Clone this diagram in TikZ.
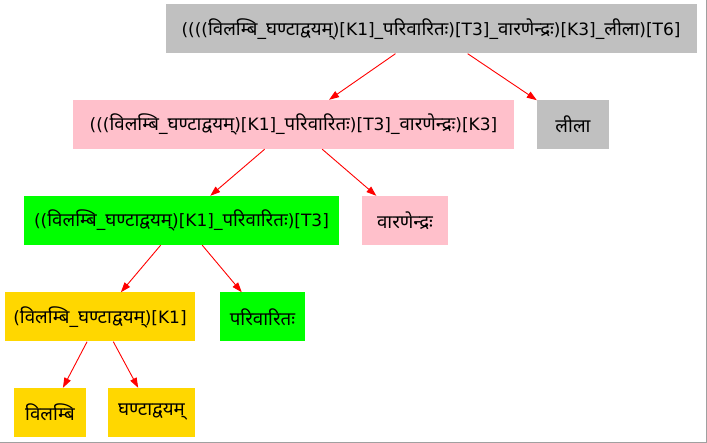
\documentclass[tikz,border=0pt]{standalone}
\usepackage{fontspec}
\setmainfont{DejaVu Sans}
\newfontfamily\devafont[Script=Devanagari, Scale=1.1]{Noto Sans}
\newcommand{\skt}[1]{{\devafont #1}}
\usetikzlibrary{arrows.meta}

\definecolor{boxgray}{HTML}{C0C0C0}
\definecolor{boxpink}{HTML}{FFC0CB}
\definecolor{boxgreen}{HTML}{00FF00}
\definecolor{boxgold}{HTML}{FFD700}
\definecolor{edgegray}{HTML}{A0A0A0}

\tikzstyle{word} = [rectangle, inner sep=0pt, minimum height=49pt, font=\fontsize{17pt}{19pt}\selectfont]
\tikzstyle{link} = [draw=red, line width=0.9pt, -{Triangle[length=10pt,width=7pt]}, red]

\begin{document}
\begin{tikzpicture}[x=1pt, y=-1pt]
      \useasboundingbox (0,0) rectangle (707,443);
      \node[word, fill=boxgray, minimum width=531pt] (root) at (431,29) {((((\skt{विलम्बि}\_\skt{घण्टाद्वयम्})[K1]\_\skt{परिवारितः})[T3]\_\skt{वारणेन्द्रः})[K3]\_\skt{लीला})[T6]};
      \node[word, fill=boxpink, minimum width=441pt] (k3) at (293.5,124.5) {(((\skt{विलम्बि}\_\skt{घण्टाद्वयम्})[K1]\_\skt{परिवारितः})[T3]\_\skt{वारणेन्द्रः})[K3]};
      \node[word, fill=boxgray, minimum width=72pt] (lila) at (573,124.5) {\skt{लीला}};
      \node[word, fill=boxgreen, minimum width=315pt] (t3) at (181.5,220.5) {((\skt{विलम्बि}\_\skt{घण्टाद्वयम्})[K1]\_\skt{परिवारितः})[T3]};
      \node[word, fill=boxpink, minimum width=86pt] (varana) at (405,220.5) {\skt{वारणेन्द्रः}};
      \node[word, fill=boxgold, minimum width=190pt] (k1) at (100,317) {(\skt{विलम्बि}\_\skt{घण्टाद्वयम्})[K1]};
      \node[word, fill=boxgreen, minimum width=85pt] (pari) at (262.5,317) {\skt{परिवारितः}};
      \node[word, fill=boxgold, minimum width=72pt] (vilambi) at (50,412.5) {\skt{विलम्बि}};
      \node[word, fill=boxgold, minimum width=87pt] (ghanta) at (151.5,412.5) {\skt{घण्टाद्वयम्}};
      \draw[link] (root) -- (k3);
      \draw[link] (root) -- (lila);
      \draw[link] (k3) -- (t3);
      \draw[link] (k3) -- (varana);
      \draw[link] (t3) -- (k1);
      \draw[link] (t3) -- (pari);
      \draw[link] (k1) -- (vilambi);
      \draw[link] (k1) -- (ghanta);
      % frame lines at the right and bottom
      \draw[edgegray, line width=1.2pt] (706.4,0) -- (706.4,442.4) -- (0,442.4);
    \end{tikzpicture}
\end{document}
